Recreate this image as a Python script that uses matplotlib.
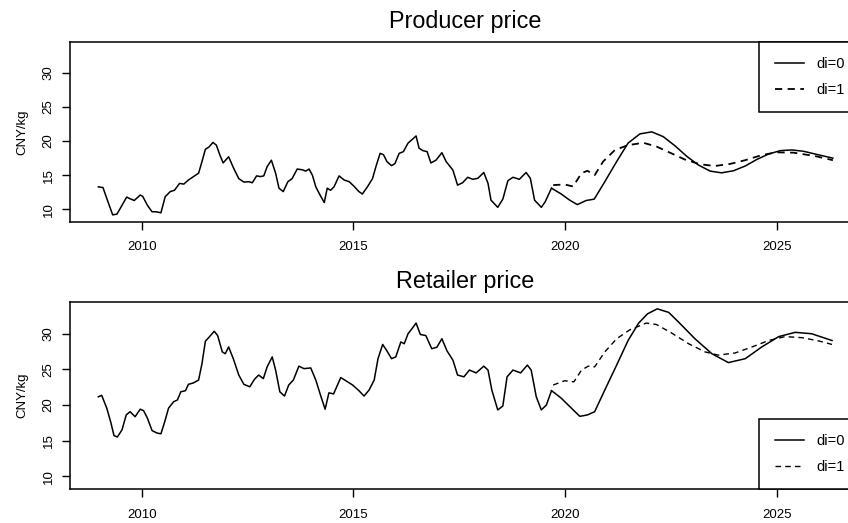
import matplotlib
matplotlib.use('Agg')
import matplotlib.pyplot as plt

plt.rcParams['font.family'] = ['Liberation Sans', 'DejaVu Sans']

# producer price, observed
prod_t = [2008.97, 2009.08, 2009.17, 2009.31, 2009.41, 2009.53, 2009.64, 2009.74, 2009.82, 2009.96,
          2010.02, 2010.13, 2010.24, 2010.34, 2010.45, 2010.55, 2010.67, 2010.77, 2010.89, 2010.99,
          2011.10, 2011.22, 2011.34, 2011.42, 2011.50, 2011.58, 2011.68, 2011.76, 2011.84, 2011.92,
          2012.05, 2012.17, 2012.29, 2012.41, 2012.53, 2012.61, 2012.71, 2012.80, 2012.88, 2012.96,
          2013.06, 2013.16, 2013.24, 2013.34, 2013.45, 2013.55, 2013.67, 2013.79, 2013.87, 2013.95,
          2014.03, 2014.11, 2014.21, 2014.31, 2014.38, 2014.46, 2014.54, 2014.66, 2014.78, 2014.90,
          2015.01, 2015.13, 2015.21, 2015.33, 2015.45, 2015.53, 2015.63, 2015.71, 2015.79, 2015.90,
          2015.98, 2016.08, 2016.18, 2016.29, 2016.40, 2016.48, 2016.55, 2016.64, 2016.74, 2016.83,
          2016.95, 2017.09, 2017.19, 2017.35, 2017.46, 2017.58, 2017.70, 2017.82, 2017.94, 2018.08,
          2018.18, 2018.25, 2018.41, 2018.53, 2018.65, 2018.77, 2018.92, 2019.08, 2019.18, 2019.28,
          2019.44, 2019.53, 2019.68]
prod_v = [13.3, 13.2, 11.6, 9.2, 9.3, 10.6, 11.8, 11.5, 11.3, 12.1,
          11.9, 10.6, 9.65, 9.65, 9.5, 11.85, 12.6, 12.8, 13.8, 13.7,
          14.3, 14.8, 15.3, 17.0, 18.8, 19.1, 19.8, 19.4, 18.0, 16.8,
          17.7, 16.0, 14.5, 14.0, 14.05, 13.9, 14.9, 14.8, 14.9, 16.25,
          17.2, 15.3, 13.1, 12.6, 14.05, 14.5, 15.9, 15.8, 15.6, 15.9,
          15.0, 13.3, 12.1, 11.0, 13.1, 12.8, 13.3, 14.9, 14.3, 14.05,
          13.4, 12.6, 12.25, 13.3, 14.5, 16.25, 18.2, 18.0, 17.0, 16.4,
          16.7, 18.2, 18.45, 19.7, 20.3, 20.75, 18.95, 18.6, 18.45, 16.8,
          17.2, 18.3, 17.0, 15.75, 13.55, 13.9, 14.7, 14.4, 14.55, 15.4,
          13.8, 11.35, 10.3, 11.5, 14.2, 14.7, 14.4, 15.4, 14.55, 11.35,
          10.3, 11.1, 13.1]

# producer price, forecast di=0
prod_f0_t = [2019.68, 2019.91, 2020.11, 2020.29, 2020.50, 2020.69, 2020.94, 2021.22, 2021.49, 2021.77,
             2022.05, 2022.32, 2022.60, 2022.87, 2023.15, 2023.43, 2023.70, 2023.98, 2024.26, 2024.53,
             2024.81, 2025.09, 2025.36, 2025.64, 2025.91, 2026.33]
prod_f0_v = [13.1, 12.25, 11.35, 10.7, 11.3, 11.5, 14.05, 17.0, 19.7, 21.05,
             21.35, 20.65, 19.3, 17.8, 16.5, 15.6, 15.35, 15.65, 16.35, 17.3,
             18.1, 18.6, 18.7, 18.5, 18.1, 17.5]

# producer price, forecast di=1
prod_f1_t = [2019.72, 2019.99, 2020.19, 2020.39, 2020.53, 2020.70, 2020.90, 2021.18, 2021.49, 2021.85,
             2022.16, 2022.48, 2022.83, 2023.19, 2023.54, 2023.90, 2024.26, 2024.65, 2025.00, 2025.40,
             2025.91, 2026.33]
prod_f1_v = [13.55, 13.65, 13.35, 15.3, 15.65, 15.0, 17.0, 18.7, 19.4, 19.75,
             19.2, 18.3, 17.3, 16.6, 16.35, 16.65, 17.2, 17.95, 18.35, 18.3,
             17.8, 17.2]

# retailer price, observed
ret_t = [2008.97, 2009.05, 2009.17, 2009.27, 2009.34, 2009.42, 2009.53, 2009.63, 2009.72, 2009.84,
         2009.96, 2010.04, 2010.13, 2010.24, 2010.36, 2010.45, 2010.53, 2010.63, 2010.75, 2010.84,
         2010.92, 2011.03, 2011.10, 2011.22, 2011.34, 2011.42, 2011.50, 2011.60, 2011.71, 2011.79,
         2011.90, 2011.97, 2012.05, 2012.16, 2012.29, 2012.41, 2012.55, 2012.66, 2012.76, 2012.87,
         2012.96, 2013.08, 2013.16, 2013.26, 2013.37, 2013.47, 2013.58, 2013.71, 2013.83, 2013.99,
         2014.11, 2014.22, 2014.33, 2014.42, 2014.53, 2014.70, 2014.82, 2014.98, 2015.13, 2015.25,
         2015.37, 2015.49, 2015.58, 2015.69, 2015.79, 2015.90, 2016.00, 2016.12, 2016.20, 2016.29,
         2016.40, 2016.48, 2016.58, 2016.71, 2016.85, 2016.97, 2017.09, 2017.21, 2017.35, 2017.46,
         2017.61, 2017.74, 2017.90, 2018.08, 2018.18, 2018.27, 2018.41, 2018.53, 2018.63, 2018.77,
         2018.95, 2019.11, 2019.20, 2019.32, 2019.44, 2019.56, 2019.68]
ret_v = [21.15, 21.35, 19.55, 17.45, 15.7, 15.5, 16.5, 18.6, 19.05, 18.35,
         19.4, 19.2, 18.15, 16.4, 16.05, 15.95, 17.45, 19.55, 20.45, 20.7,
         21.85, 22.0, 22.9, 23.1, 23.5, 25.8, 28.95, 29.6, 30.35, 29.75,
         27.45, 27.2, 28.15, 26.5, 24.2, 22.9, 22.55, 23.6, 24.2, 23.7,
         25.35, 26.75, 24.9, 21.85, 21.25, 22.8, 23.5, 25.45, 25.1, 25.2,
         23.5, 21.4, 19.4, 21.7, 21.55, 23.85, 23.4, 22.8, 22.0, 21.25,
         22.1, 23.5, 26.5, 28.5, 27.6, 26.5, 26.75, 28.85, 28.6, 30.0,
         30.85, 31.5, 29.9, 29.75, 27.9, 28.1, 29.3, 27.6, 26.3, 24.2,
         23.95, 24.9, 24.5, 25.45, 24.9, 22.1, 19.3, 19.85, 23.95, 24.9,
         24.5, 25.6, 24.9, 21.15, 19.3, 20.0, 22.0]

# retailer price, forecast di=0
ret_f0_t = [2019.68, 2019.75, 2019.91, 2020.15, 2020.35, 2020.53, 2020.70, 2020.94, 2021.22, 2021.49,
            2021.74, 2021.95, 2022.18, 2022.45, 2022.69, 2023.07, 2023.47, 2023.86, 2024.26, 2024.65,
            2025.05, 2025.44, 2025.83, 2026.31]
ret_f0_v = [22.0, 21.7, 20.95, 19.55, 18.4, 18.6, 19.05, 22.1, 25.6, 29.05,
            31.5, 32.8, 33.5, 33.0, 31.6, 29.3, 27.2, 25.95, 26.5, 28.15,
            29.6, 30.2, 30.0, 29.05]

# retailer price, forecast di=1
ret_f1_t = [2019.72, 2019.99, 2020.21, 2020.39, 2020.55, 2020.70, 2020.94, 2021.22, 2021.53, 2021.92,
            2022.16, 2022.52, 2022.92, 2023.31, 2023.62, 2024.02, 2024.42, 2024.81, 2025.20, 2025.60,
            2025.99, 2026.31]
ret_f1_v = [22.8, 23.4, 23.25, 24.9, 25.45, 25.35, 27.45, 29.3, 30.55, 31.5,
            31.3, 30.1, 28.6, 27.45, 27.0, 27.3, 28.15, 29.05, 29.6, 29.45,
            29.0, 28.5]

titles = ['Producer price', 'Retailer price']
legend_labels = ['di=0', 'di=1']
x_ticks = [2010, 2015, 2020, 2025]
y_ticks = [10, 15, 20, 25, 30]

fig = plt.figure(figsize=(8.48, 5.23), dpi=100)
ax1 = fig.add_axes([0.0825, 0.5755, 0.9316, 0.3442])
ax2 = fig.add_axes([0.0825, 0.0644, 0.9316, 0.3587])

panels = [
    (ax1, prod_t, prod_v, prod_f0_t, prod_f0_v, prod_f1_t, prod_f1_v, 'upper right', 1.3),
    (ax2, ret_t, ret_v, ret_f0_t, ret_f0_v, ret_f1_t, ret_f1_v, 'lower right', 1.0),
]

for i, (ax, t, v, t0, v0, t1, v1, loc, dlw) in enumerate(panels):
    ax.plot(t, v, color='black', lw=1.1)
    l0, = ax.plot(t0, v0, color='black', lw=1.1)
    l1, = ax.plot(t1, v1, color='black', lw=dlw, linestyle=(0, (4, 3)))
    ax.set_xlim(2008.30, 2026.97)
    ax.set_ylim(8.15, 34.5)
    ax.set_xticks(x_ticks)
    # R style: y labels parallel to the axis
    ax.set_yticks(y_ticks, labels=[str(y) for y in y_ticks], rotation=90,
                  ha='center', va='bottom', rotation_mode='anchor')
    ax.tick_params(axis='both', direction='out', length=6, width=1.0, labelsize=9.5, colors='black')
    ax.tick_params(axis='x', pad=8)
    ax.tick_params(axis='y', pad=5)
    for s in ax.spines.values():
        s.set_linewidth(1.1)
    ax.set_ylabel('CNY/kg', fontsize=9.5, labelpad=10.5)
    ax.set_title(titles[i], fontsize=16.8, pad=10)
    leg = ax.legend([l0, l1], legend_labels, loc=loc, borderaxespad=0, fontsize=10.5,
                    fancybox=False, framealpha=1, edgecolor='black', borderpad=1.05,
                    labelspacing=0.8, handlelength=2.0, handletextpad=0.85)
    leg.get_frame().set_linewidth(1.1)

fig.savefig('out.png', dpi=100)
